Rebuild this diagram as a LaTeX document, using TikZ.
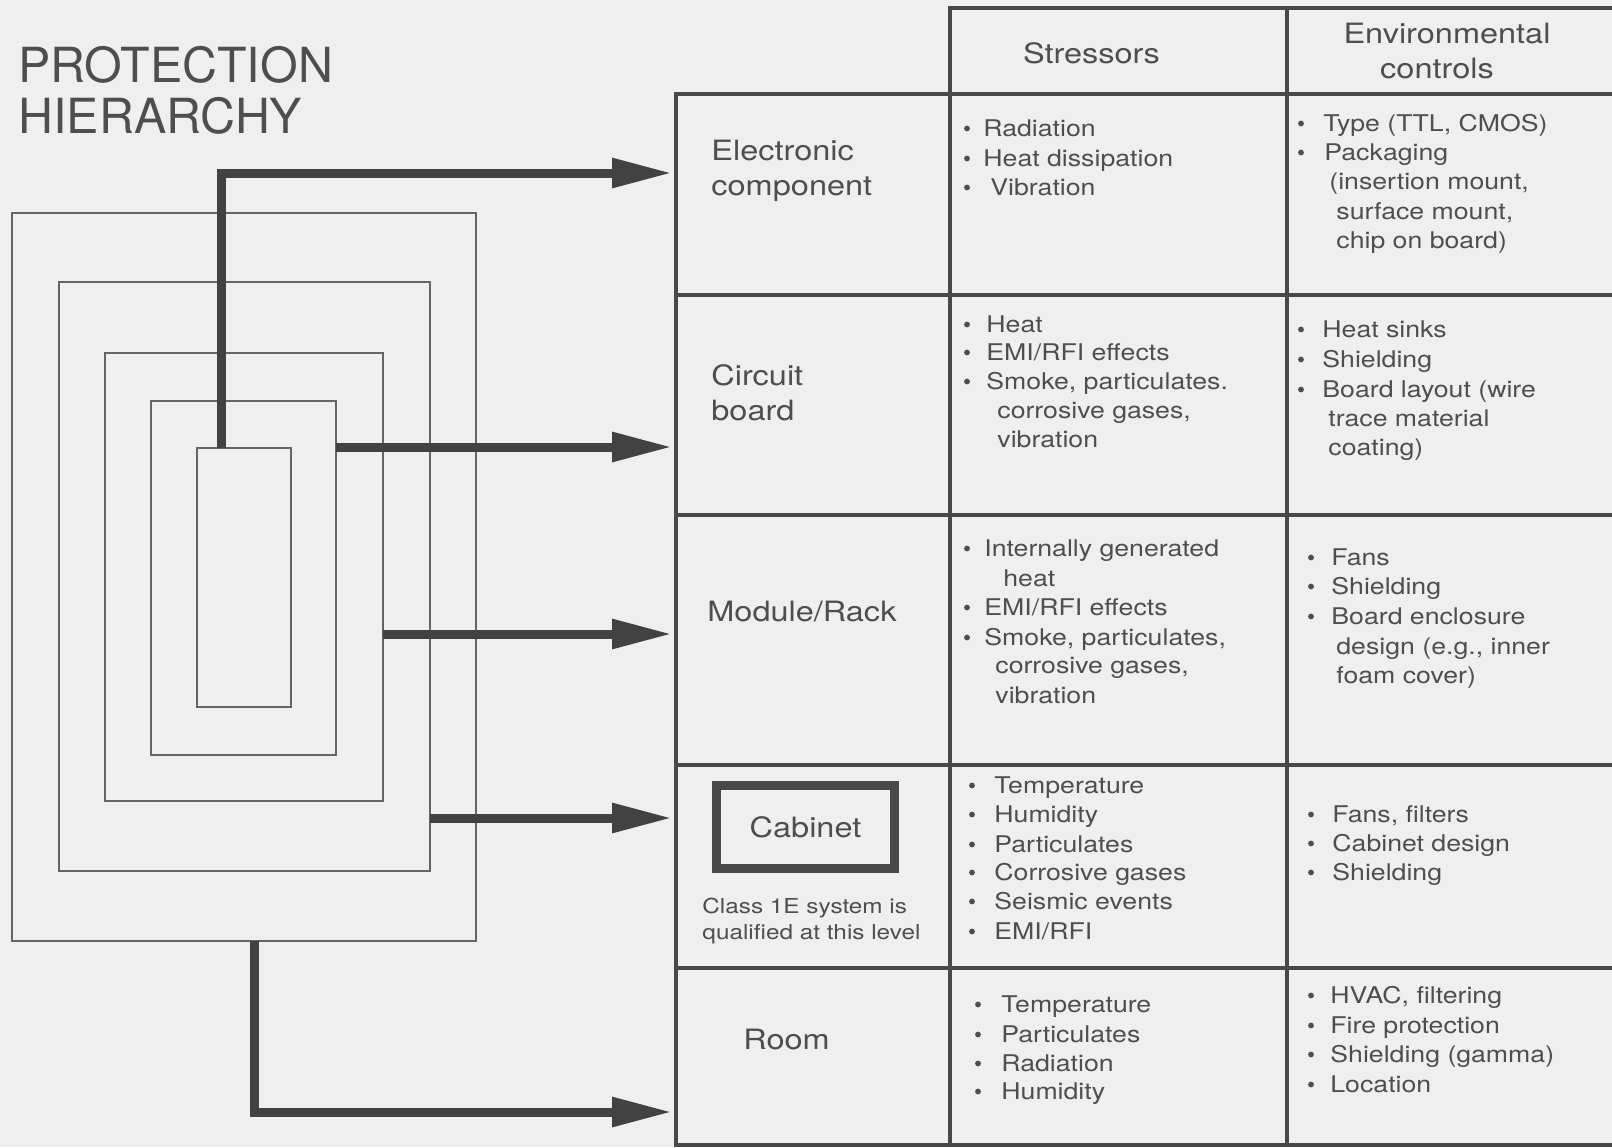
\documentclass[tikz,border=0pt]{standalone}
\usepackage{fontspec}
\setmainfont{TeX Gyre Heros}
\newfontfamily\widefont[FakeStretch=1.16]{TeX Gyre Heros}
\newfontfamily\notefont[FakeStretch=1.18]{TeX Gyre Heros}
\usetikzlibrary{arrows.meta,calc}

\definecolor{paper}{RGB}{239,239,239}
\definecolor{inkc}{RGB}{78,78,78}
\definecolor{rulec}{RGB}{72,72,72}
\definecolor{boxc}{RGB}{100,100,100}
\definecolor{arrowc}{RGB}{66,66,66}

\tikzset{
  level/.style={draw=boxc, line width=1.3pt, inner sep=0pt, outer sep=0pt},
  flow/.style={draw=arrowc, line width=4.5pt, -{Triangle[length=30pt,width=14pt]}},
  gridline/.style={draw=rulec, line width=1.6pt},
  titletext/.style={text=inkc, font=\fontsize{24.2}{25.7}\selectfont, inner sep=0pt, anchor=base west},
  heading/.style={text=inkc, font=\widefont\fontsize{14}{17.5}\selectfont, inner sep=0pt, anchor=base},
  rowlabel/.style={text=inkc, font=\widefont\fontsize{14}{17.5}\selectfont, inner sep=0pt, anchor=base west},
  itm/.style={text=inkc, font=\widefont\fontsize{11.5}{14.75}\selectfont, inner sep=0pt, anchor=base west},
  notetext/.style={text=inkc, font=\notefont\fontsize{10.3}{13}\selectfont, inner sep=0pt, anchor=base west},
  cabbox/.style={draw=rulec, line width=4.5pt, minimum width=89pt, minimum height=41.5pt,
    inner sep=0pt, text=inkc, font=\widefont\fontsize{14}{17}\selectfont}
}

% a list bullet sitting at x-height middle of a line with baseline #2
\newcommand\bulletdot[2]{\fill[inkc] (#1,#2-7.5) circle[radius=1.45pt];}

\begin{document}
\begin{tikzpicture}[x=0.5pt,y=-0.5pt]
\fill[paper] (0,0) rectangle (1612,1147);
\useasboundingbox (0,0) rectangle (1612,1147);

% title
\node[titletext] (title1) at (18,82) {PROTECTION};
\node[titletext] (title2) at (18,133) {HIERARCHY};

% nested protection levels
\node[level, minimum width=232pt,   minimum height=364pt]   (R5) at (244,577) {};
\node[level, minimum width=185.5pt, minimum height=294.5pt] (R4) at (244.5,576.5) {};
\node[level, minimum width=139pt,   minimum height=224pt]   (R3) at (244,577) {};
\node[level, minimum width=92.5pt,  minimum height=177pt]   (R2) at (243.5,578) {};
\node[level, minimum width=47pt,    minimum height=129.5pt] (R1) at (244,577.5) {};

% arrow targets on the table's left edge
\coordinate (tip1) at (672,173);
\coordinate (tip2) at (672,447);
\coordinate (tip3) at (672,634);
\coordinate (tip4) at (672,818);
\coordinate (tip5) at (672,1112);

\draw[flow] ($(R1.north west)+(24,0)$) |- (tip1);
\draw[flow] (R2.east |- tip2) -- (tip2);
\draw[flow] (R3.east |- tip3) -- (tip3);
\draw[flow] (R4.east |- tip4) -- (tip4);
\draw[flow] ($(R5.south west)+(242,0)$) |- (tip5);

% table rules
\draw[gridline] (950,1147) -- (950,8) -- (1612,8);
\draw[gridline] (676,1147) -- (676,94) -- (1612,94);
\draw[gridline] (1287,8) -- (1287,1147);
\foreach \yy in {295,515,765,968,1145}
  \draw[gridline] (676,\yy) -- (1612,\yy);

% column headings
\node[heading] (hstress) at (1091.5,63) {Stressors};
\node[heading] (henv1) at (1447,43) {Environmental};
\node[heading] (henv2) at (1437,78) {controls};

% row labels
\node[rowlabel] (lab1a) at (711,160) {Electronic};
\node[rowlabel] (lab1b) at (711,195) {component};
\node[rowlabel] (lab2a) at (711,385) {Circuit};
\node[rowlabel] (lab2b) at (711,420) {board};
\node[rowlabel] (lab3) at (707,621) {Module/Rack};
\node[cabbox] (lab4) at (805.5,827) {Cabinet};
\node[notetext] (note1) at (702,913) {Class 1E system is};
\node[notetext] (note2) at (702,939) {qualified at this level};
\node[rowlabel] (lab5) at (743,1049) {Room};

% electronic component
\bulletdot{967}{136}\node[itm] (s1a) at (983,136) {Radiation};
\bulletdot{967}{166}\node[itm] (s1b) at (983,166) {Heat dissipation};
\bulletdot{967}{195}\node[itm] (s1c) at (990,195) {Vibration};
\bulletdot{1301}{131}\node[itm] (e1a) at (1323,131) {Type (TTL, CMOS)};
\bulletdot{1301}{160}\node[itm] (e1b) at (1324,160) {Packaging};
\node[itm] (e1c) at (1329,189) {(insertion mount,};
\node[itm] (e1d) at (1336,219) {surface mount,};
\node[itm] (e1e) at (1336,248) {chip on board)};

% circuit board
\bulletdot{967}{332}\node[itm] (s2a) at (986,332) {Heat};
\bulletdot{967}{360}\node[itm] (s2b) at (986,360) {EMI/RFI effects};
\bulletdot{967}{389}\node[itm] (s2c) at (986,389) {Smoke, particulates.};
\node[itm] (s2d) at (997,418) {corrosive gases,};
\node[itm] (s2e) at (997,447) {vibration};
\bulletdot{1301}{337}\node[itm] (e2a) at (1322,337) {Heat sinks};
\bulletdot{1301}{367}\node[itm] (e2b) at (1322,367) {Shielding};
\bulletdot{1301}{397}\node[itm] (e2c) at (1322,397) {Board layout (wire};
\node[itm] (e2d) at (1328,426) {trace material};
\node[itm] (e2e) at (1328,455) {coating)};

% module / rack
\bulletdot{967}{556}\node[itm] (s3a) at (984,556) {Internally generated};
\node[itm] (s3b) at (1003,586) {heat};
\bulletdot{967}{615}\node[itm] (s3c) at (984,615) {EMI/RFI effects};
\bulletdot{967}{645}\node[itm] (s3d) at (984,645) {Smoke, particulates,};
\node[itm] (s3e) at (995,673) {corrosive gases,};
\node[itm] (s3f) at (995,703) {vibration};
\bulletdot{1311}{565}\node[itm] (e3a) at (1331,565) {Fans};
\bulletdot{1311}{594}\node[itm] (e3b) at (1331,594) {Shielding};
\bulletdot{1311}{624}\node[itm] (e3c) at (1331,624) {Board enclosure};
\node[itm] (e3d) at (1336,654) {design (e.g., inner};
\node[itm] (e3e) at (1336,683) {foam cover)};

% cabinet
\bulletdot{972}{793}\node[itm] (s4a) at (994,793) {Temperature};
\bulletdot{972}{822}\node[itm] (s4b) at (994,822) {Humidity};
\bulletdot{972}{852}\node[itm] (s4c) at (994,852) {Particulates};
\bulletdot{972}{880}\node[itm] (s4d) at (994,880) {Corrosive gases};
\bulletdot{972}{909}\node[itm] (s4e) at (994,909) {Seismic events};
\bulletdot{972}{939}\node[itm] (s4f) at (994,939) {EMI/RFI};
\bulletdot{1311}{822}\node[itm] (e4a) at (1332,822) {Fans, filters};
\bulletdot{1311}{851}\node[itm] (e4b) at (1332,851) {Cabinet design};
\bulletdot{1311}{880}\node[itm] (e4c) at (1332,880) {Shielding};

% room
\bulletdot{978}{1012}\node[itm] (s5a) at (1001,1012) {Temperature};
\bulletdot{978}{1042}\node[itm] (s5b) at (1001,1042) {Particulates};
\bulletdot{978}{1071}\node[itm] (s5c) at (1001,1071) {Radiation};
\bulletdot{978}{1099}\node[itm] (s5d) at (1001,1099) {Humidity};
\bulletdot{1311}{1003}\node[itm] (e5a) at (1330,1003) {HVAC, filtering};
\bulletdot{1311}{1033}\node[itm] (e5b) at (1330,1033) {Fire protection};
\bulletdot{1311}{1062}\node[itm] (e5c) at (1330,1062) {Shielding (gamma)};
\bulletdot{1311}{1092}\node[itm] (e5d) at (1330,1092) {Location};
\end{tikzpicture}
\end{document}
